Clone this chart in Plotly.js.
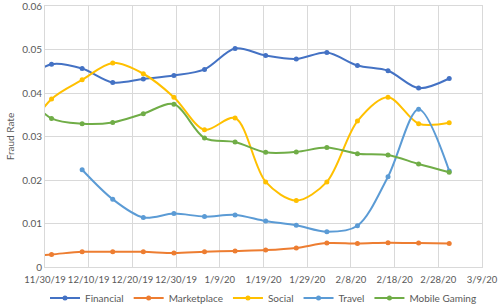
<!DOCTYPE html>
<html><head><meta charset="utf-8">
<script src="https://cdn.plot.ly/plotly-3.0.1.min.js"></script>
<style>html,body{margin:0;padding:0;background:#fff}#c{width:500px;height:308px}</style>
</head><body><div id="c"></div>
<script>
const dates = ['2019-11-24','2019-12-01','2019-12-08','2019-12-15','2019-12-22','2019-12-29','2020-01-05','2020-01-12','2020-01-19','2020-01-26','2020-02-02','2020-02-09','2020-02-16','2020-02-23','2020-03-01'];
const financial   = [0.0425,0.0467,0.0457,0.0425,0.0433,0.0441,0.0455,0.0503,0.0487,0.0479,0.0494,0.0464,0.0452,0.0412,0.0434];
const marketplace = [0.0024,0.0029,0.0035,0.0035,0.0035,0.0032,0.0035,0.0037,0.0039,0.0044,0.0055,0.0054,0.0056,0.0055,0.0054];
const social      = [0.0290,0.0387,0.0431,0.0470,0.0445,0.0391,0.0316,0.0343,0.0196,0.0153,0.0196,0.0336,0.0391,0.0330,0.0332];
const travel      = [null,null,0.0224,0.0156,0.0114,0.0123,0.0116,0.0120,0.0106,0.0096,0.0081,0.0095,0.0208,0.0363,0.0221];
const gaming      = [0.0410,0.0342,0.0330,0.0333,0.0353,0.0375,0.0297,0.0288,0.0264,0.0265,0.0275,0.0261,0.0258,0.0237,0.0218];
const names  = ['Financial','Marketplace','Social','Travel','Mobile Gaming'];
const series = [financial, marketplace, social, travel, gaming];
const colors = ['#4472C4','#ED7D31','#FFC000','#5B9BD5','#70AD47'];
const xs = dates.map(d => d + ' 12:00');
const traces = series.map((s,i) => ({
  type:'scatter', mode:'lines+markers', name:names[i], x:xs, y:s,
  line:{color:colors[i], width:2, shape:'spline', smoothing:0.9},
  marker:{color:colors[i], size:5}, connectgaps:false
}));
const font = {family:'Lato, "Open Sans", sans-serif', size:10, color:'#595959'};
Plotly.newPlot('c', traces, {
  width:500, height:308, margin:{l:45, r:18, t:6, b:41, autoexpand:false},
  paper_bgcolor:'#fff', plot_bgcolor:'#fff', font:font,
  xaxis:{type:'date', range:['2019-11-30','2020-03-09 00:05'], tick0:'2019-11-30', dtick:864000000,
    tickformat:'%-m/%-d/%y', tickangle:0, showgrid:true, gridcolor:'#d9d9d9', gridwidth:1,
    showline:true, mirror:true, linecolor:'#d9d9d9', zeroline:false, ticks:'', ticklabelstandoff:4,
    tickfont:{family:font.family, size:9.5, color:'#595959'}},
  yaxis:{range:[0,0.0601], dtick:0.01, tick0:0, showgrid:true, gridcolor:'#d9d9d9', gridwidth:1,
    showline:true, mirror:true, linecolor:'#d9d9d9', zeroline:false, ticks:'', tickfont:font,
    ticklabeloverflow:'allow', title:{text:'Fraud Rate', font:font, standoff:5}},
  showlegend:true,
  legend:{orientation:'h', x:0.5, xanchor:'center', y:-0.119, yanchor:'middle', font:font, itemwidth:30, tracegroupgap:0}
}, {displayModeBar:false, staticPlot:true});
</script></body></html>
